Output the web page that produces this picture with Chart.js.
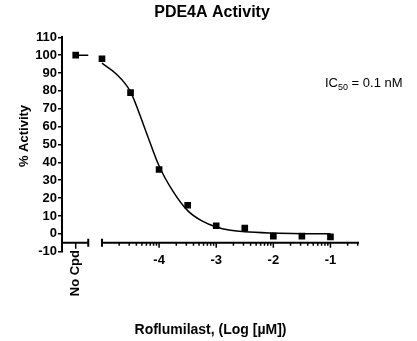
<!DOCTYPE html>
<html>
<head>
<meta charset="utf-8">
<script src="https://cdn.jsdelivr.net/npm/chart.js@4/dist/chart.umd.min.js"></script>
<style>
  body { margin: 0; background: #fff; }
</style>
</head>
<body>
<canvas id="chart" width="417" height="341"></canvas>
<script>
// data
const chartTitle = 'PDE4A Activity';
const xTitle = 'Roflumilast, (Log [µM])';
const yTitle = '% Activity';

const noCpdLabel = 'No Cpd';
const noCpdX = -5.46;          // where the "No Cpd" column sits on the axis
const noCpdStubX = [-5.46, -5.24];
const noCpdValue = 100;

const logConc = [-5, -4.5, -4, -3.5, -3, -2.5, -2, -1.5, -1];
const activity = [98, 79, 36, 16, 4.5, 3.2, -1.3, -1.3, -1.7];

// fitted curve
const fitX = [-5, -4.75, -4.5, -4.25, -4, -3.75, -3.5, -3.25, -3, -2.75, -2.5, -2, -1.5, -1];
const fitY = [95.5, 89.5, 79.5, 59, 38, 23.5, 13, 7.2, 3.8, 2.0, 1.1, 0.4, 0.1, 0];

const xTicks = [-4, -3, -2, -1];
const xMin = -5.7, xMax = -0.5, axisStart = -5;
const yMin = -10, yMax = 110, yStep = 10, xAxisAtY = -5;

Chart.defaults.font.family = '"Liberation Sans", Arial, sans-serif';
Chart.defaults.color = '#000';

var ctx = document.getElementById('chart');

// axis pieces, extra labels and annotation
const decor = {
    id: 'decor',
    afterDraw(chart) {
        const c = chart.ctx;
        const xs = chart.scales.x, ys = chart.scales.y;
        const y0 = ys.getPixelForValue(xAxisAtY);
        c.save();
        c.strokeStyle = '#000';
        c.fillStyle = '#000';
        c.lineWidth = 2;

        // no cpd segment
        let segEnd = xs.getPixelForValue(noCpdStubX[1]);
        c.beginPath();
        c.moveTo(xs.left, y0); c.lineTo(segEnd, y0);
        c.moveTo(segEnd, y0 - 4); c.lineTo(segEnd, y0 + 4);
        c.stroke();
        c.lineWidth = 1.5;
        let nx = xs.getPixelForValue(noCpdX);
        c.beginPath();
        c.moveTo(nx, y0); c.lineTo(nx, y0 + 6);
        c.stroke();

        // main segment
        c.lineWidth = 2;
        let sx = xs.getPixelForValue(axisStart);
        c.beginPath();
        c.moveTo(sx, y0); c.lineTo(xs.right, y0);
        c.moveTo(sx, y0 - 4); c.lineTo(sx, y0 + 4);
        c.stroke();

        // log ticks
        c.lineWidth = 1.5;
        c.beginPath();
        for (let d = axisStart; d < xMax; d++) {
            for (let k = 1; k <= 9; k++) {
                let v = d + Math.log10(k);
                if (v > xMax || (k == 1 && d == axisStart)) continue;
                let px = xs.getPixelForValue(v);
                c.moveTo(px, y0);
                c.lineTo(px, y0 + (k == 1 ? 5 : 3));
            }
        }
        c.stroke();

        // No Cpd label
        c.font = 'bold 13px "Liberation Sans", Arial, sans-serif';
        c.save();
        c.translate(nx, 250);
        c.rotate(-Math.PI / 2);
        c.textAlign = 'right';
        c.textBaseline = 'middle';
        c.fillText(noCpdLabel, 0, 0);
        c.restore();

        // y title
        c.save();
        c.translate(24, 136);
        c.rotate(-Math.PI / 2);
        c.textAlign = 'center';
        c.textBaseline = 'middle';
        c.fillText(yTitle, 0, 0);
        c.restore();

        // chart title
        c.font = 'bold 16px "Liberation Sans", Arial, sans-serif';
        c.textAlign = 'center';
        c.textBaseline = 'middle';
        c.fillText(chartTitle, 212, 12.5);

        // IC50
        c.textAlign = 'left';
        c.textBaseline = 'alphabetic';
        let tx = 325;
        c.font = '13px "Liberation Sans", Arial, sans-serif';
        c.fillText('IC', tx, 87);
        tx += c.measureText('IC').width;
        c.font = '9px "Liberation Sans", Arial, sans-serif';
        c.fillText('50', tx, 90);
        tx += c.measureText('50').width;
        c.font = '13px "Liberation Sans", Arial, sans-serif';
        c.fillText(' = 0.1 nM', tx, 87);
        c.restore();
    }
};

var chart = new Chart(ctx, {
    type: 'scatter',
    data: {
        datasets: [{
            type: 'line',
            data: fitX.map((x, i) => ({x: x, y: fitY[i]})),
            borderColor: '#000',
            borderWidth: 1.5,
            pointRadius: 0,
            cubicInterpolationMode: 'monotone',
            fill: false
        }, {
            type: 'line',
            data: noCpdStubX.map(x => ({x: x, y: noCpdValue})),
            borderColor: '#000',
            borderWidth: 1.5,
            pointRadius: 0,
            fill: false
        }, {
            data: [{x: noCpdX, y: noCpdValue}].concat(logConc.map((x, i) => ({x: x, y: activity[i]}))),
            pointStyle: 'rect',
            pointRadius: 4.7,
            pointHoverRadius: 4.7,
            backgroundColor: '#000',
            borderColor: '#000',
            borderWidth: 0,
            showLine: false
        }]
    },
    options: {
        responsive: false,
        animation: false,
        devicePixelRatio: 1,
        layout: { padding: { top: 37.3, left: 0, right: 58, bottom: 0 } },
        plugins: {
            legend: { display: false },
            tooltip: { enabled: false },
            title: { display: false }
        },
        scales: {
            x: {
                type: 'linear',
                min: xMin,
                max: xMax,
                afterBuildTicks: function(scale) {
                    scale.ticks = xTicks.map(v => ({value: v}));
                },
                afterFit: function(scale) { scale.height = 341 - 251.7; },
                grid: { display: false, drawTicks: false },
                border: { display: false },
                ticks: {
                    font: { size: 13, weight: 'bold' },
                    color: '#000',
                    padding: 1,
                    maxRotation: 0,
                    autoSkip: false,
                    callback: v => String(v)
                },
                title: {
                    display: true,
                    text: xTitle,
                    font: { size: 14, weight: 'bold' },
                    color: '#000',
                    padding: { top: 0, bottom: 2 }
                }
            },
            y: {
                min: yMin,
                max: yMax,
                afterFit: function(scale) { scale.width = 62; },
                ticks: {
                    stepSize: yStep,
                    autoSkip: false,
                    font: { size: 13, weight: 'bold' },
                    color: '#000',
                    padding: 1
                },
                grid: {
                    drawOnChartArea: false,
                    drawTicks: true,
                    tickLength: 4,
                    color: '#000',
                    lineWidth: 1.5
                },
                border: { display: true, color: '#000', width: 2 }
            }
        }
    },
    plugins: [decor]
});
</script>
</body>
</html>
